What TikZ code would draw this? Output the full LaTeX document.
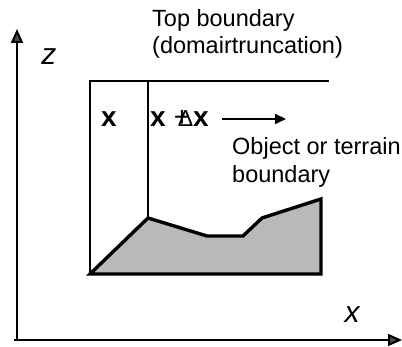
\documentclass[tikz,border=0pt]{standalone}
\usepackage{fontspec}
\setmainfont{Liberation Sans}
\usetikzlibrary{positioning,arrows.meta}

\begin{document}
\begin{tikzpicture}[
      x=1pt, y=1pt,
      font=\fontsize{23.5}{27}\selectfont,
      txt/.style={inner sep=0pt, anchor=base west},
      var/.style={inner sep=0pt, anchor=base, font=\fontsize{30}{32}\selectfont\itshape},
      boldlab/.style={inner sep=0pt, anchor=base west, font=\fontsize{28}{30}\selectfont\bfseries},
      axis/.style={line width=2pt, -{Triangle[length=14pt,width=12pt,fill=black!70]}},
      edge/.style={line width=2.2pt},
      terrain/.style={line width=3.4pt, fill=gray!55, line join=miter},
      arrow/.style={line width=1.8pt, -{Triangle[length=11pt,width=10pt]}}
    ]
    \useasboundingbox (0,0) rectangle (402,347);

    % axes
    \coordinate (origin) at (17,7);
    \coordinate (xstart) at (14,7);
    \coordinate (ztip)   at (17,318);
    \coordinate (xtip)   at (402,7);
    \draw[axis] (origin) -- (ztip);
    \draw[axis] (xstart) -- (xtip);
    \node[var] (zlab) at (49,282) {z};
    \node[var] (xlab) at (352,24) {x};

    % domain
    \coordinate (tl) at (90,266);
    \coordinate (tr) at (329,266);
    \coordinate (bl) at (90,73);
    \coordinate (br) at (321,73);
    \coordinate (ct) at (148,266);
    \coordinate (t1) at (148,129);
    \coordinate (t2) at (207,111);
    \coordinate (t3) at (243,111);
    \coordinate (t4) at (262,129);
    \coordinate (t5) at (321,148);

    \draw[terrain] (bl) -- (t1) -- (t2) -- (t3) -- (t4) -- (t5) -- (br) -- cycle;
    \draw[edge] (tr) -- (tl) -- (bl) -- (br);
    \draw[edge] (ct) -- (t1);

    % columns
    \node[boldlab, anchor=base] (xc) at (109,220) {x};
    \node[boldlab] (xdx) at (150,220) {x\hspace{12pt}\makebox[0pt][l]{\hspace{-4pt}\mdseries+}{\mdseries\fontsize{23}{24}\selectfont Δ}x};
    \coordinate (dxs) at (222,228);
    \coordinate (dxe) at (286,228);
    \draw[arrow] (dxs) -- (dxe);

    % labels
    \node[txt] (top1) at (152,320) {Top boundary};
    \node[txt, below=27pt of top1.base west, anchor=base west] (top2) {(domairtruncation)};
    \node[txt] (obj1) at (232,192) {Object or terrain};
    \node[txt, below=28pt of obj1.base west, anchor=base west] (obj2) {boundary};
  \end{tikzpicture}
\end{document}
